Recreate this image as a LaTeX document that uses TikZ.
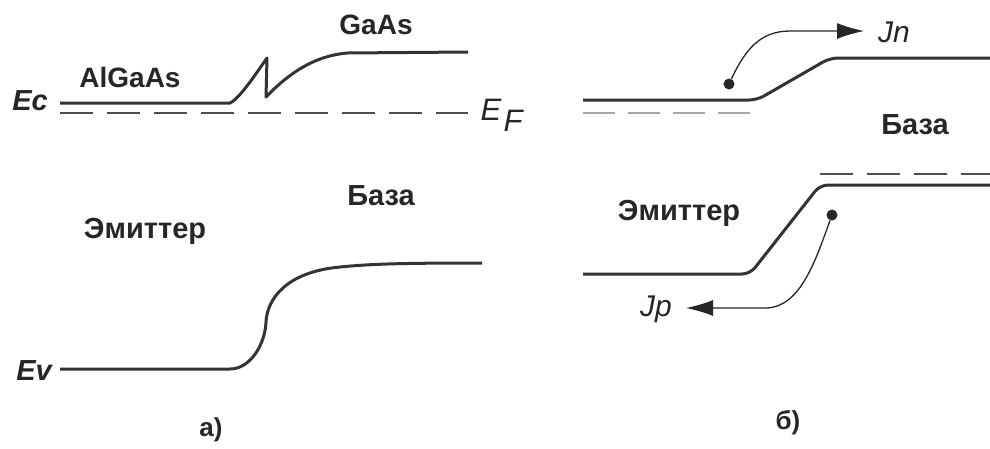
\documentclass[tikz,border=0pt]{standalone}
\usepackage{fontspec}
\setmainfont{Liberation Sans}
\usetikzlibrary{arrows.meta}
\begin{document}
\begin{tikzpicture}[x=1pt,y=-1pt,
  band/.style={line width=3pt,color=black!80,line join=round},
  fermi/.style={line width=2.6pt,color=black!70,dash pattern=on 33pt off 14pt},
  fermilight/.style={line width=2.6pt,color=black!35,dash pattern=on 32pt off 13pt},
  cur/.style={line width=1.3pt,color=black!85,-{Latex[length=27pt,width=16pt]}},
  lbl/.style={font=\fontsize{28}{32}\selectfont\bfseries,text=black!85,inner sep=0pt},
  cyr/.style={font=\fontsize{29}{32}\selectfont\bfseries,text=black!85,inner sep=0pt},
  ilbl/.style={font=\fontsize{30}{32}\selectfont\itshape,text=black!85,inner sep=0pt},
  bilbl/.style={font=\fontsize{29}{32}\selectfont\bfseries\itshape,text=black!85,inner sep=0pt},
  dotst/.style={circle,fill=black!85,minimum size=11pt,inner sep=0pt}]
\useasboundingbox (0,0) rectangle (990,448);
% ---------- panel a ----------
\draw[band] (60,103) -- (230,103) .. controls (240,98) and (255,75) .. (267,58)
  -- (266,97) .. controls (290,72) and (315,56) .. (347,53) -- (468,52);
\draw[fermi] (60,113) -- (468,113);
\draw[band] (60,369) -- (230,369) .. controls (250,369) and (265,345) .. (266,322)
  .. controls (267,300) and (285,272) .. (340,267) .. controls (370,264) and (400,263) .. (482,263);
\node[bilbl] (ec) at (30,101) {Ec};
\node[bilbl] (ev) at (34,371) {Ev};
\node[ilbl,font=\fontsize{31}{34}\selectfont\itshape] (ef) at (491,110) {E};
\node[ilbl,font=\fontsize{31}{34}\selectfont\itshape] (ff) at (513,121) {F};
\node[lbl] (algaas) at (130,77) {AlGaAs};
\node[lbl] (gaas) at (376,25) {GaAs};
\node[cyr] (emA) at (145,231) {Эмиттер};
\node[cyr] (baseA) at (381,196) {База};
\node[cyr,font=\fontsize{26}{30}\selectfont\bfseries] (capA) at (211,430) {а)};
% ---------- panel b ----------
\draw[band,rounded corners=8pt] (583,100) -- (757,100) -- (830,58) -- (990,58);
\draw[fermilight] (583,113) -- (757,113);
\draw[band,rounded corners=8pt] (583,274) -- (750,274) -- (820,185) -- (990,185);
\draw[fermi] (820,174) -- (990,174);
\node[dotst] (e) at (729,84) {};
\node[dotst] (h) at (832,215) {};
\coordinate (jnend) at (864,31);
\coordinate (jpend) at (686,308);
\draw[cur] (e) .. controls (745,50) and (760,31) .. (790,31) -- (jnend);
\draw[cur] (h) .. controls (815,262) and (800,308) .. (765,308) -- (jpend);
\node[ilbl] (jn) at (894,32) {Jn};
\node[ilbl] (jp) at (656,309) {Jp};
\node[cyr] (emB) at (679,213) {Эмиттер};
\node[cyr] (baseB) at (915,125) {База};
\node[cyr,font=\fontsize{26}{30}\selectfont\bfseries] (capB) at (788,423) {б)};
\end{tikzpicture}
\end{document}
